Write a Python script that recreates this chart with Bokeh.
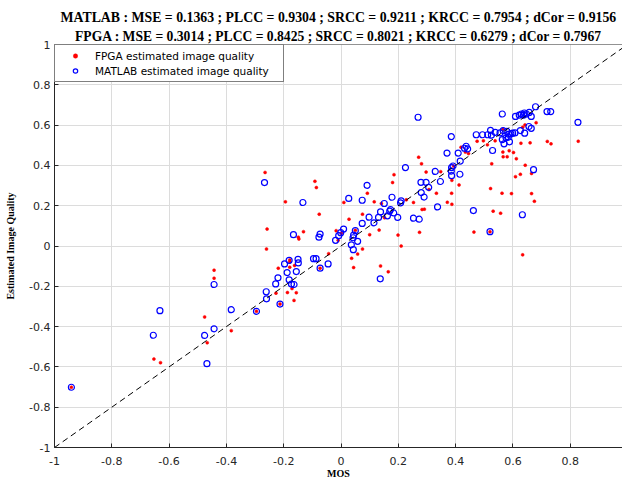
from bokeh.plotting import figure
from bokeh.models import FixedTicker, Span, Legend, LegendItem, Range1d, Title
from bokeh.embed import file_html
from bokeh.resources import INLINE

title_line1 = "MATLAB : MSE = 0.1363 ; PLCC = 0.9304 ; SRCC = 0.9211 ; KRCC = 0.7954 ; dCor = 0.9156"
title_line2 = "FPGA : MSE = 0.3014 ; PLCC = 0.8425 ; SRCC = 0.8021 ; KRCC = 0.6279 ; dCor = 0.7967"
x_label = "MOS"
y_label = "Estimated Image Quality"

x_ticks = [-1, -0.8, -0.6, -0.4, -0.2, 0, 0.2, 0.4, 0.6, 0.8, 1]
x_tick_labels = ["-1", "-0.8", "-0.6", "-0.4", "-0.2", "0", "0.2", "0.4", "0.6", "0.8", "1"]
y_ticks = [-1, -0.8, -0.6, -0.4, -0.2, 0, 0.2, 0.4, 0.6, 0.8, 1]
y_tick_labels = ["-1", "-0.8", "-0.6", "-0.4", "-0.2", "0", "0.2", "0.4", "0.6", "0.8", "1"]

ref_x = [-1, 1]
ref_y = [-1, 1]

matlab_mos = [
    -0.941, -0.632, -0.655, -0.443, -0.383, -0.476, -0.443, -0.468, -0.295, -0.261,
    -0.260, -0.228, -0.220, -0.213, -0.197, -0.188, -0.181, -0.173, -0.164, -0.156,
    -0.149, -0.181, -0.150, -0.096, -0.087, -0.073, -0.045, -0.267, -0.133, -0.166,
    -0.073, -0.077, -0.019, -0.008, -0.001, 0.225, 0.279, 0.091, 0.027, 0.074,
    0.178, 0.151, 0.210, 0.208, 0.173, 0.170, 0.138, 0.184, 0.162, 0.198,
    0.253, 0.273, 0.098, 0.131, 0.115, 0.074, 0.009, 0.050, 0.044, 0.042,
    0.058, 0.036, 0.043, 0.137, 0.269, 0.563, 0.385, 0.472, 0.494, 0.512,
    0.525, 0.522, 0.538, 0.555, 0.566, 0.579, 0.586, 0.563, 0.569, 0.588,
    0.437, 0.431, 0.442, 0.409, 0.370, 0.529, 0.416, 0.391, 0.386, 0.385,
    0.386, 0.329, 0.347, 0.415, 0.297, 0.306, 0.280, 0.290, 0.337, 0.462,
    0.520, 0.679, 0.719, 0.732, 0.609, 0.622, 0.630, 0.637, 0.640, 0.647,
    0.657, 0.664, 0.827, 0.656, 0.664, 0.626, 0.641, 0.607, 0.599, 0.593,
    0.584, 0.576, 0.672, 0.633,
]
matlab_quality = [
    -0.701, -0.321, -0.443, -0.191, -0.316, -0.444, -0.411, -0.584, -0.324, -0.227,
    -0.262, -0.188, -0.158, -0.288, -0.089, -0.132, -0.168, -0.189, -0.191, -0.127,
    -0.084, -0.071, -0.066, -0.063, -0.063, -0.110, -0.089, 0.315, 0.216, 0.056,
    0.059, 0.044, 0.028, 0.051, 0.066, 0.389, 0.316, 0.301, 0.236, 0.227,
    0.242, 0.211, 0.224, 0.214, 0.181, 0.173, 0.169, 0.164, 0.150, 0.142,
    0.138, 0.133, 0.143, 0.142, 0.115, 0.112, 0.084, 0.076, 0.054, 0.041,
    0.023, 0.006, -0.018, -0.163, 0.639, 0.655, 0.543, 0.552, 0.552, 0.552,
    0.550, 0.574, 0.564, 0.561, 0.573, 0.569, 0.555, 0.528, 0.507, 0.517,
    0.495, 0.485, 0.482, 0.461, 0.461, 0.474, 0.421, 0.397, 0.389, 0.372,
    0.349, 0.370, 0.320, 0.356, 0.316, 0.291, 0.265, 0.243, 0.194, 0.176,
    0.071, 0.691, 0.667, 0.667, 0.643, 0.650, 0.655, 0.650, 0.660, 0.655,
    0.663, 0.643, 0.614, 0.593, 0.584, 0.573, 0.560, 0.561, 0.560, 0.557,
    0.540, 0.537, 0.379, 0.155,
]

fpga_mos = [
    -0.941, -0.443, -0.443, -0.476, -0.467, -0.653, -0.630, -0.383, -0.295, -0.227,
    -0.219, -0.187, -0.179, -0.179, -0.171, -0.162, -0.156, -0.164, -0.213, -0.073,
    -0.265, -0.258, -0.260, -0.194, -0.091, -0.086, -0.076, -0.131, -0.149, -0.147,
    -0.017, -0.010, -0.043, -0.179, 0.271, 0.185, 0.180, 0.092, 0.010, 0.116,
    0.141, 0.228, 0.253, 0.075, 0.028, 0.152, 0.050, 0.001, 0.133, 0.100,
    0.274, 0.199, 0.210, 0.075, 0.058, 0.037, 0.138, 0.044, 0.165, 0.419,
    0.434, 0.445, 0.475, 0.497, 0.511, 0.538, 0.565, 0.587, 0.565, 0.566,
    0.580, 0.281, 0.393, 0.526, 0.297, 0.348, 0.387, 0.412, 0.307, 0.522,
    0.333, 0.386, 0.562, 0.371, 0.387, 0.283, 0.291, 0.531, 0.557, 0.464,
    0.520, 0.681, 0.642, 0.634, 0.628, 0.660, 0.720, 0.733, 0.828, 0.602,
    0.612, 0.643, 0.609, 0.626, 0.665, 0.595, 0.665, 0.675, 0.634,
]
fpga_quality = [
    -0.701, -0.120, -0.160, -0.352, -0.480, -0.561, -0.579, -0.420, -0.324, -0.234,
    -0.110, -0.231, -0.080, -0.105, -0.211, -0.097, -0.232, -0.270, -0.288, -0.110,
    0.365, 0.084, -0.015, 0.219, 0.321, 0.290, 0.158, 0.071, 0.044, 0.035,
    0.076, 0.028, -0.038, -0.069, 0.441, 0.354, 0.315, 0.262, 0.216, 0.219,
    0.211, 0.229, 0.216, 0.158, 0.133, 0.140, 0.078, 0.063, 0.079, 0.056,
    0.068, 0.054, 0.000, -0.015, -0.040, -0.061, -0.099, -0.107, -0.128, 0.490,
    0.466, 0.459, 0.520, 0.522, 0.502, 0.522, 0.579, 0.473, 0.466, 0.443,
    0.443, 0.408, 0.397, 0.408, 0.367, 0.369, 0.326, 0.303, 0.280, 0.285,
    0.262, 0.262, 0.262, 0.217, 0.207, 0.181, 0.183, 0.173, 0.163, 0.069,
    0.071, 0.612, 0.601, 0.589, 0.510, 0.512, 0.519, 0.507, 0.520, 0.464,
    0.433, 0.401, 0.344, 0.356, 0.360, 0.260, 0.260, 0.222, -0.044,
]

axis_color = "#262626"
tick_font = "DejaVu Sans"
serif = "Liberation Serif"

p = figure(width=622, height=481, output_backend="svg", toolbar_location=None,
           x_range=Range1d(-1, 0.9825), y_range=Range1d(-1, 1),
           min_border_left=54, min_border_right=0, min_border_top=44, min_border_bottom=33,
           background_fill_color="white", border_fill_color="white")
p.outline_line_color = None

p.add_layout(Title(text=title_line2, align="center", text_font=serif, text_font_style="bold",
                   text_font_size="13.6px", text_color="black", standoff=2, offset=0), "above")
p.add_layout(Title(text=title_line1, align="center", text_font=serif, text_font_style="bold",
                   text_font_size="13.8px", text_color="black", standoff=2, offset=0), "above")

for ax, ticks, labels in ((p.xaxis[0], x_ticks, x_tick_labels), (p.yaxis[0], y_ticks, y_tick_labels)):
    ax.ticker = FixedTicker(ticks=ticks)
    ax.major_label_overrides = {t: l for t, l in zip(ticks, labels)}
    ax.major_tick_in = 4
    ax.major_tick_out = 0
    ax.minor_tick_line_color = None
    ax.axis_line_color = axis_color
    ax.major_tick_line_color = axis_color
    ax.major_label_text_color = axis_color
    ax.major_label_text_font = tick_font
    ax.major_label_text_font_size = "11px"
    ax.axis_label_text_font = serif
    ax.axis_label_text_font_style = "bold"
    ax.axis_label_text_font_size = "10px"
    ax.axis_label_text_color = "black"

p.xaxis.major_label_standoff = 9
p.xaxis.axis_label = x_label
p.xaxis.axis_label_standoff = 0
p.yaxis.major_label_standoff = 4
p.yaxis.axis_label = y_label
p.yaxis.axis_label_standoff = 10

p.xgrid.ticker = FixedTicker(ticks=x_ticks)
p.ygrid.ticker = FixedTicker(ticks=y_ticks)
p.grid.grid_line_color = "#dcdcdc"
p.grid.grid_line_width = 1

p.add_layout(Span(location=1, dimension="width", line_color=axis_color, line_width=1))

r_fpga = p.scatter(fpga_mos, fpga_quality, marker="circle", size=3,
                   fill_color="#ff0000", line_color="#ff0000", line_width=0.5)
r_matlab = p.scatter(matlab_mos, matlab_quality, marker="circle", size=6,
                     fill_color=None, line_color="#0000ff", line_width=1.2)
p.line(ref_x, ref_y, line_color="black", line_width=1, line_dash="6 4")

legend = Legend(items=[LegendItem(label="FPGA estimated image quality", renderers=[r_fpga]),
                       LegendItem(label="MATLAB estimated image quality", renderers=[r_matlab])],
                location="top_left", margin=0, padding=3, spacing=0,
                glyph_width=34, glyph_height=11, label_height=15, label_standoff=3,
                label_width=185,
                label_text_font="DejaVu Sans", label_text_font_size="10.5px",
                label_text_color="black",
                border_line_color="black", border_line_width=1,
                background_fill_color="white", background_fill_alpha=1)
p.add_layout(legend)

open("out.html", "w").write(file_html(p, INLINE))
